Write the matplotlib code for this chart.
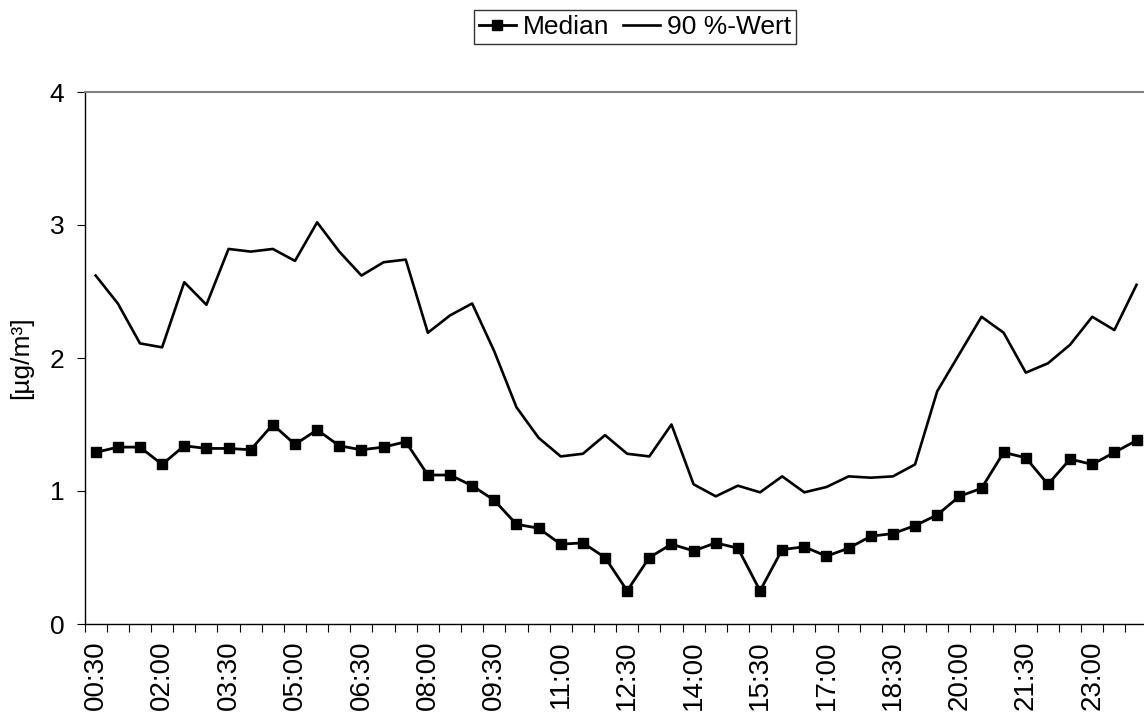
import matplotlib
matplotlib.use('Agg')
import matplotlib.pyplot as plt
import numpy as np

plt.rcParams['font.family'] = ['Liberation Sans', 'DejaVu Sans']

# half-hour slots 00:30 ... 24:00
slots = ['%02d:%02d' % ((m // 60) % 24, m % 60) for m in range(30, 24 * 60 + 1, 30)]

median = [1.29, 1.33, 1.33, 1.20, 1.34, 1.32, 1.32, 1.31, 1.50, 1.35,
          1.46, 1.34, 1.31, 1.33, 1.37, 1.12, 1.12, 1.04, 0.93, 0.75,
          0.72, 0.60, 0.61, 0.50, 0.25, 0.50, 0.60, 0.55, 0.61, 0.57,
          0.25, 0.56, 0.58, 0.51, 0.57, 0.66, 0.68, 0.74, 0.82, 0.96,
          1.02, 1.29, 1.25, 1.05, 1.24, 1.20, 1.29, 1.38]
p90 = [2.62, 2.41, 2.11, 2.08, 2.57, 2.40, 2.82, 2.80, 2.82, 2.73,
       3.02, 2.80, 2.62, 2.72, 2.74, 2.19, 2.32, 2.41, 2.05, 1.63,
       1.40, 1.26, 1.28, 1.42, 1.28, 1.26, 1.50, 1.05, 0.96, 1.04,
       0.99, 1.11, 0.99, 1.03, 1.11, 1.10, 1.11, 1.20, 1.75, 2.03,
       2.31, 2.19, 1.89, 1.96, 2.10, 2.31, 2.21, 2.55]

x = np.arange(len(slots))
fs = 19

fig = plt.figure(figsize=(11.44, 7.13), dpi=100)
ax = fig.add_axes([84.6 / 1144, 89 / 713, 1063 / 1144, 532 / 713])

ax.plot(x, median, color='black', lw=2.0, marker='s', markersize=7.2,
        label='Median')
ax.plot(x, p90, color='black', lw=1.9, label='90 %-Wert')

ax.set_xlim(-0.5, len(slots) - 0.5)
ax.set_ylim(0, 4)
ax.set_yticks([0, 1, 2, 3, 4])

# labels every 3rd slot, tick marks between categories
ax.set_xticks(x[::3])
ax.set_xticklabels(slots[::3], rotation=90)
ax.set_xticks(np.arange(len(slots) + 1) - 0.5, minor=True)
ax.tick_params(axis='x', which='major', length=0, pad=12, labelsize=20)
ax.tick_params(axis='x', which='minor', length=5.5, width=0.8, direction='out')
ax.tick_params(axis='y', length=5.5, width=0.8, pad=9, labelsize=fs)

ax.set_ylabel('[µg/m³]', fontsize=fs, labelpad=12)

for s in ['left', 'bottom']:
    ax.spines[s].set_color('black')
    ax.spines[s].set_linewidth(1)
ax.spines['top'].set_color('#808080')
ax.spines['top'].set_linewidth(1.5)
ax.spines['right'].set_visible(False)

leg = fig.legend(loc='center', bbox_to_anchor=(635 / 1144, 1 - 27 / 713),
                 ncol=2, frameon=True, fancybox=False, fontsize=fs,
                 handlelength=1.4, handletextpad=0.25, columnspacing=0.55,
                 borderpad=0.2, borderaxespad=0)
leg.get_frame().set_edgecolor('black')
leg.get_frame().set_linewidth(1)

fig.savefig('out.png', dpi=100)
